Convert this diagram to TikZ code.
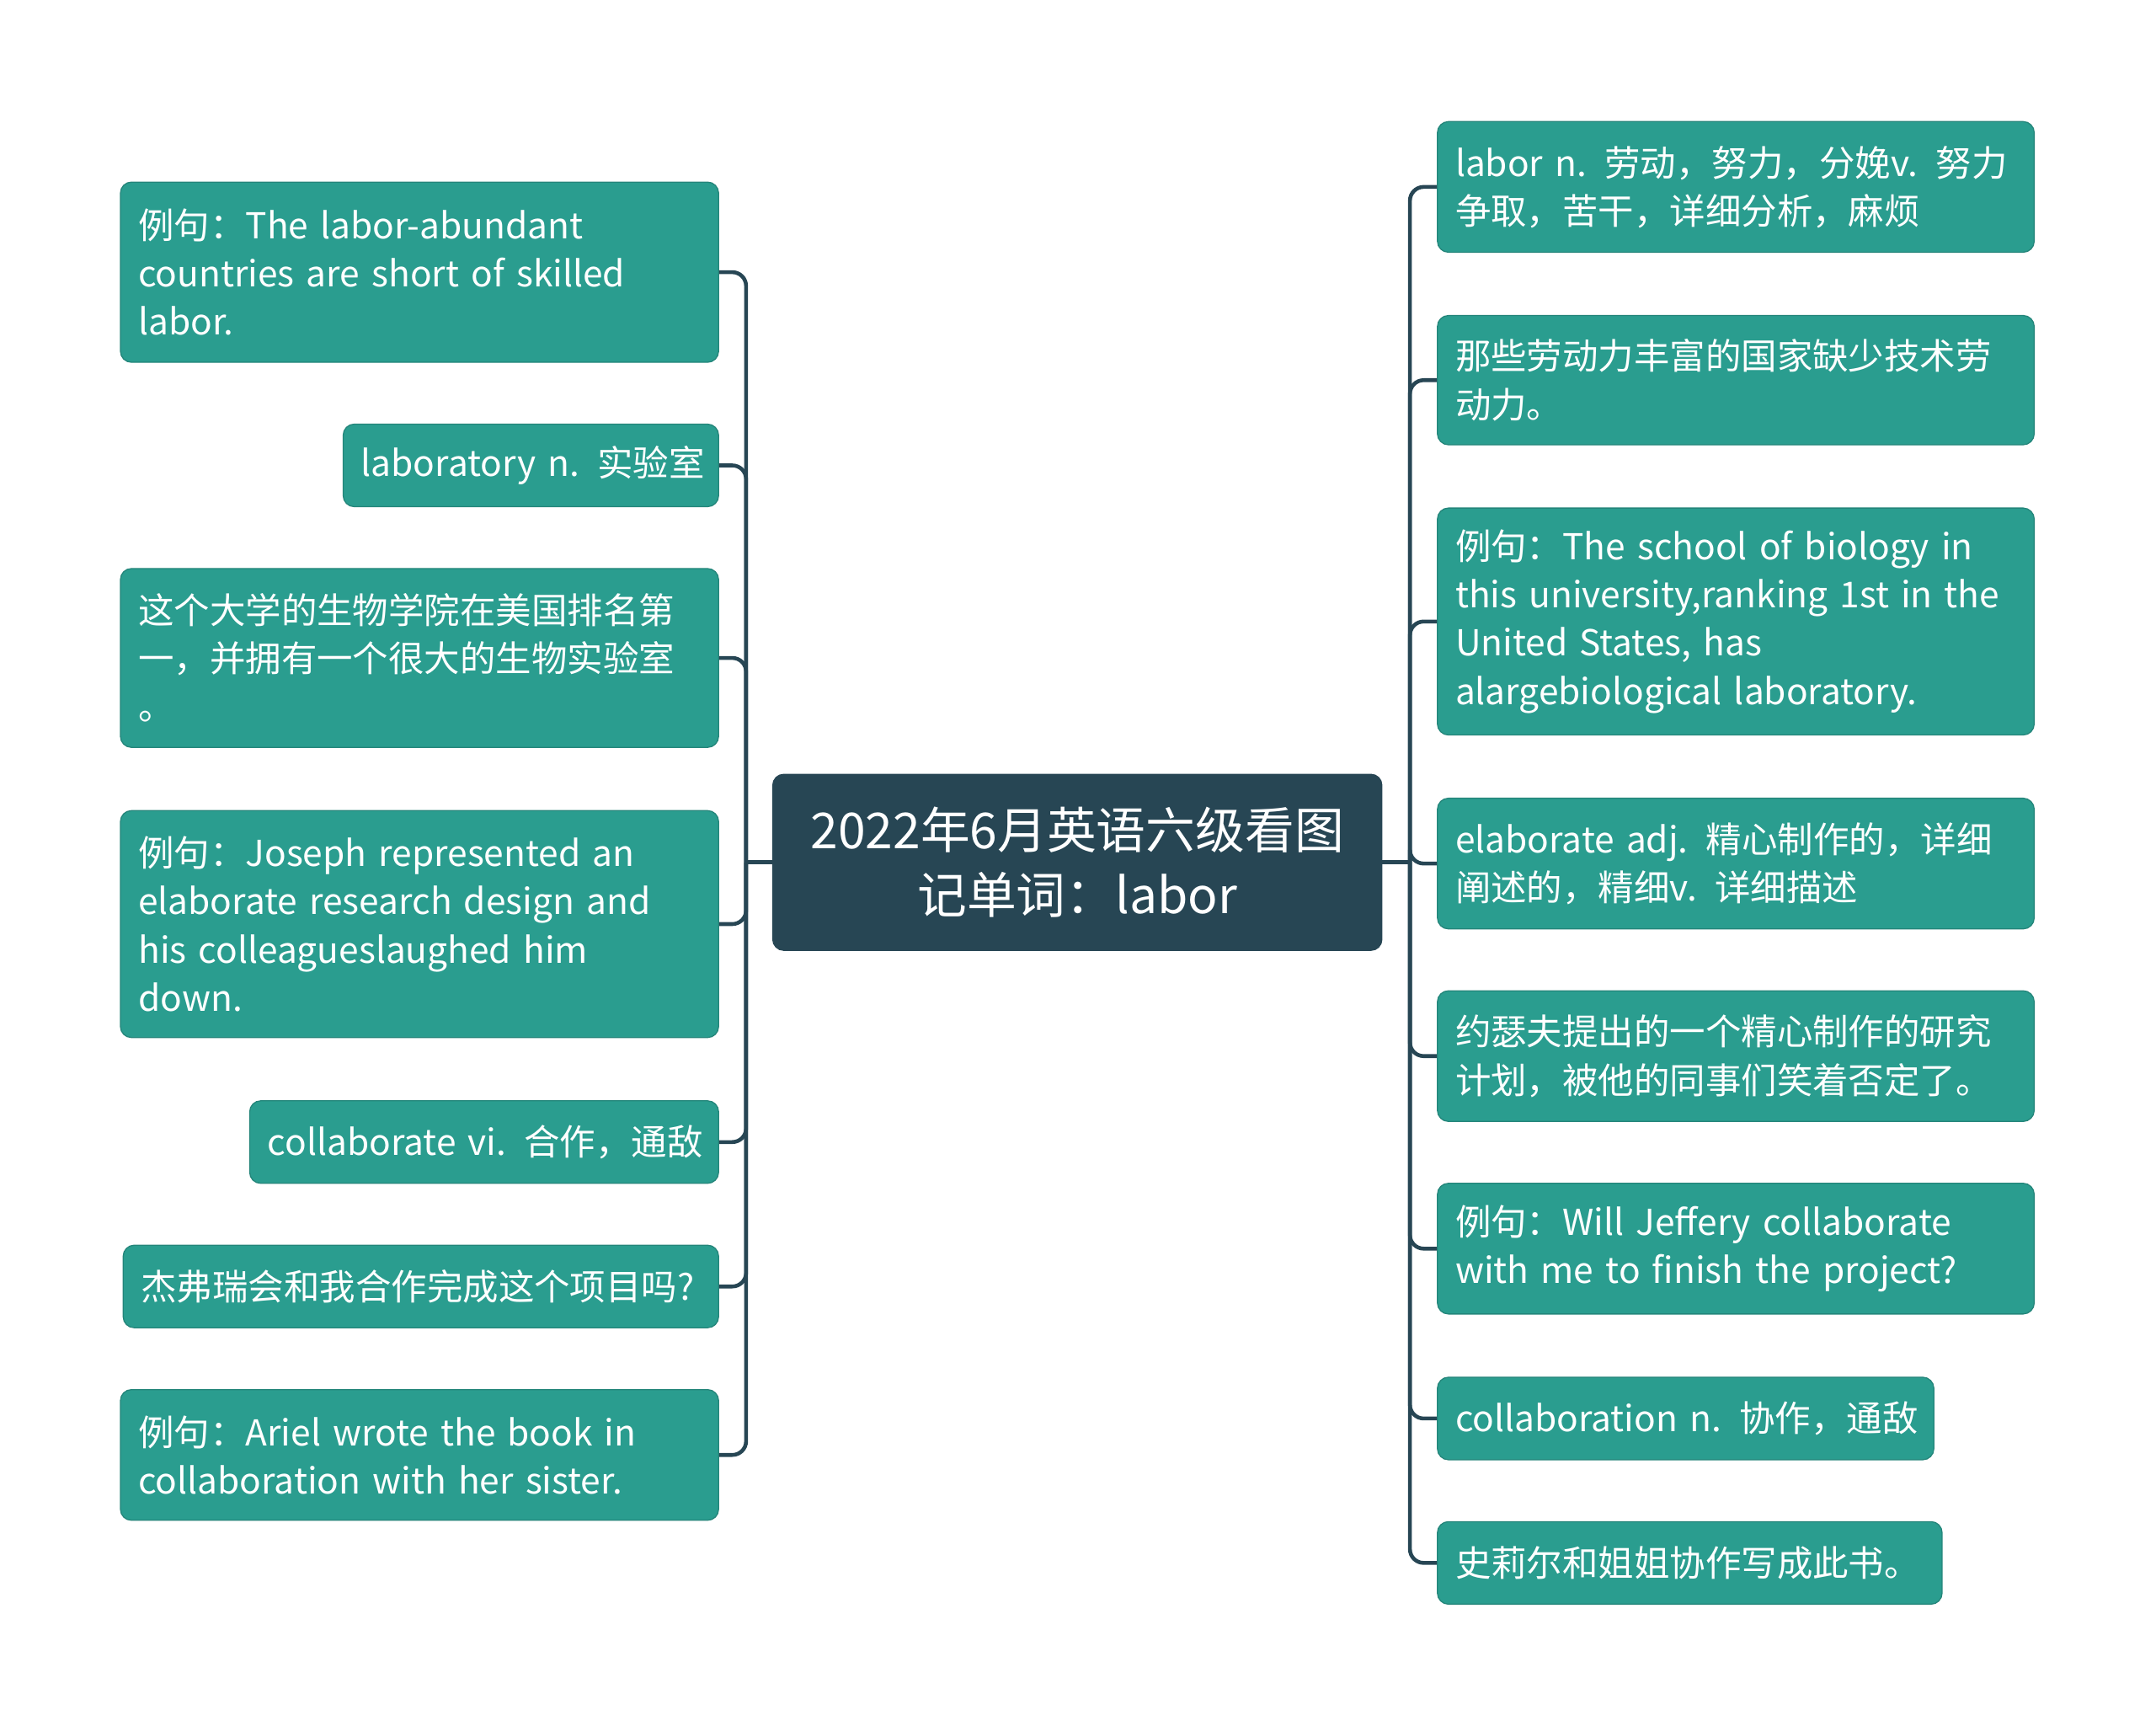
\documentclass[tikz,border=0pt]{standalone}
\usepackage{fontspec}
\setmainfont{Noto Sans CJK SC}
\usepackage{tikz}
\definecolor{leafteal}{RGB}{42,157,143}
\definecolor{rootslate}{RGB}{39,70,84}
\begin{document}
\begin{tikzpicture}[x=0.5pt,y=-0.5pt,
    leaf/.style={fill=leafteal, draw=leafteal!85!black, rounded corners=4pt, text=white,
        font=\fontsize{13}{17.5}\selectfont, align=left, inner xsep=6.5pt, inner ysep=0pt},
    lleaf/.style={leaf, anchor=north east},
    rleaf/.style={leaf, anchor=north west},
    root/.style={fill=rootslate, draw=rootslate, rounded corners=4pt, text=white,
        font=\fontsize{18}{23.5}\selectfont, align=center,
        minimum width=221.5pt, minimum height=64pt},
    link/.style={draw=rootslate, line width=1.4pt, rounded corners=5pt}]
    \useasboundingbox (0,0) rectangle (1568,1255);
    %%Nut goc
    \node[root] (root) at (783.5,627) {2022年6月英语六级看图\\记单词：labor};
    %%Nhanh trai
    \node[lleaf, text width=204.5pt, minimum height=65.5pt] (L1) at (523,132)
        {例句：The labor-abundant\\countries are short of skilled\\labor.};
    \node[lleaf, text width=123.5pt, minimum height=30pt] (L2) at (523,308)
        {\mbox{laboratory n. 实验室}};
    \node[lleaf, text width=204.5pt, minimum height=65pt] (L3) at (523,413)
        {这个大学的生物学院在美国排名第\\一，并拥有一个很大的生物实验室\\。};
    \node[lleaf, text width=204.5pt, minimum height=82.5pt] (L4) at (523,589)
        {例句：Joseph represented an\\elaborate research design and\\his colleagueslaughed him\\down.};
    \node[lleaf, text width=157.5pt, minimum height=30pt] (L5) at (523,800)
        {\mbox{collaborate vi. 合作，通敌}};
    \node[lleaf, text width=203.5pt, minimum height=30pt] (L6) at (523,905)
        {\mbox{杰弗瑞会和我合作完成这个项目吗?}};
    \node[lleaf, text width=204.5pt, minimum height=47.5pt] (L7) at (523,1010)
        {例句：Ariel wrote the book in\\collaboration with her sister.};
    %%Nhanh phai
    \node[rleaf, text width=204pt, minimum height=47.5pt] (R1) at (1045,88)
        {labor n. 劳动，努力，分娩v. 努力\\争取，苦干，详细分析，麻烦};
    \node[rleaf, text width=204pt, minimum height=47pt] (R2) at (1045,229)
        {那些劳动力丰富的国家缺少技术劳\\动力。};
    \node[rleaf, text width=204pt, minimum height=82.5pt] (R3) at (1045,369)
        {例句：The school of biology in\\this university,ranking 1st in the\\United States, has\\alargebiological laboratory.};
    \node[rleaf, text width=204pt, minimum height=47.5pt] (R4) at (1045,580)
        {elaborate adj. 精心制作的，详细\\阐述的，精细v. 详细描述};
    \node[rleaf, text width=204pt, minimum height=47.5pt] (R5) at (1045,720)
        {约瑟夫提出的一个精心制作的研究\\计划，被他的同事们笑着否定了。};
    \node[rleaf, text width=204pt, minimum height=47.5pt] (R6) at (1045,860)
        {例句：Will Jeffery collaborate\\with me to finish the project?};
    \node[rleaf, text width=167.5pt, minimum height=30pt] (R7) at (1045,1001)
        {\mbox{collaboration n. 协作，通敌}};
    \node[rleaf, text width=170.5pt, minimum height=30pt] (R8) at (1045,1106)
        {\mbox{史莉尔和姐姐协作写成此书。}};
    %%Duong noi
    \draw[link] (root.west) -- ++(-19,0) coordinate (lhub);
    \draw[link] (root.east) -- ++(20,0) coordinate (rhub);
    \foreach \n in {L1,L2,L3,L4,L5,L6,L7}
        \draw[link] (lhub) |- (\n.east);
    \foreach \n in {R1,R2,R3,R4,R5,R6,R7,R8}
        \draw[link] (rhub) |- (\n.west);
\end{tikzpicture}
\end{document}
